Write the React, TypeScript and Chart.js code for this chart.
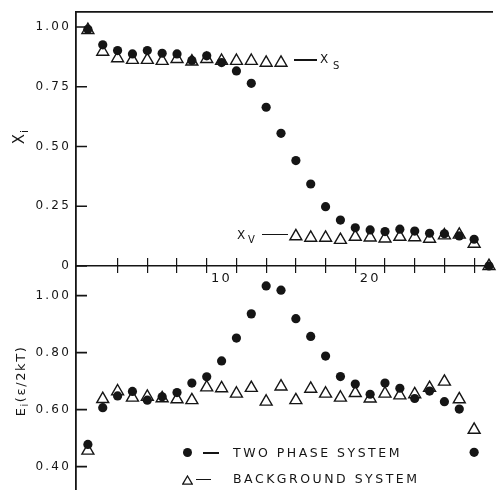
import React, { useEffect, useRef } from 'react';
import { Chart, registerables } from 'chart.js';

Chart.register(...registerables);

const INK = '#151515';
const FONT = '"DejaVu Sans", sans-serif';

// ---- data ----
const siteTop = [1, 2, 3, 4, 5, 6, 7, 8, 9, 10, 11, 12, 13, 14, 15, 16, 17, 18, 19, 20, 21, 22, 23, 24, 25, 26, 27, 28];
const siteBottom = [1, 2, 3, 4, 5, 6, 7, 8, 9, 10, 11, 12, 13, 14, 15, 16, 17, 18, 19, 20, 21, 22, 23, 24, 25, 26, 27];

const xTwoPhase = [0.99, 0.925, 0.901, 0.887, 0.901, 0.89, 0.887, 0.86, 0.879, 0.851, 0.816, 0.764, 0.664, 0.555, 0.441, 0.343, 0.248, 0.192, 0.16, 0.151, 0.144, 0.154, 0.146, 0.137, 0.135, 0.126, 0.112, 0];
const xBackground = [0.987, 0.896, 0.869, 0.862, 0.862, 0.858, 0.866, 0.855, 0.866, 0.858, 0.858, 0.858, 0.85, 0.85, 0.124, 0.118, 0.118, 0.109, 0.122, 0.119, 0.115, 0.122, 0.12, 0.114, 0.128, 0.131, 0.093, 0];

const eTwoPhase = [0.478, 0.607, 0.648, 0.664, 0.633, 0.645, 0.66, 0.693, 0.715, 0.771, 0.851, 0.936, 1.034, 1.019, 0.919, 0.857, 0.788, 0.716, 0.69, 0.654, 0.693, 0.675, 0.639, 0.665, 0.628, 0.602, 0.45];
const eBackground = [0.456, 0.637, 0.664, 0.642, 0.645, 0.64, 0.636, 0.633, 0.678, 0.675, 0.656, 0.676, 0.628, 0.681, 0.633, 0.673, 0.656, 0.642, 0.658, 0.639, 0.656, 0.65, 0.654, 0.676, 0.698, 0.636, 0.529];

const xMinorTicks = [3, 5, 7, 9, 11, 13, 15, 17, 19, 21, 23, 25, 27];
const xLabelTicks = [10, 20];
const topYTicks = [0, 0.25, 0.5, 0.75, 1.0];
const topYLabels = ['0', '0.25', '0.50', '0.75', '1.00'];
const botYTicks = [0.4, 0.6, 0.8, 1.0];
const botYLabels = ['0.40', '0.60', '0.80', '1.00'];

const X_MIN = 0.2;
const X_MAX = 28.25;
const TOP_Y_MAX = 1.0625;
const BOT_Y_MIN = 0.319;
const BOT_Y_MAX = 1.104;

const pts = (xs: number[], ys: number[]) => xs.map((x, i) => ({ x, y: ys[i] }));

const spacingPlugin = {
  id: 'letterSpacing',
  beforeDraw(chart: any) { chart.ctx.letterSpacing = '2.2px'; },
  afterDraw(chart: any) { chart.ctx.letterSpacing = '0px'; },
};

// y-axis tick marks pointing inward, placed at the y scale's own ticks
const innerTicksPlugin = {
  id: 'innerTicks',
  afterDraw(chart: any) {
    const s = chart.scales.y;
    const ctx = chart.ctx;
    const left = chart.chartArea.left;
    ctx.save();
    ctx.strokeStyle = INK;
    ctx.lineWidth = 1.6;
    ctx.beginPath();
    for (const t of s.ticks) {
      const py = s.getPixelForValue(t.value);
      ctx.moveTo(left, py);
      ctx.lineTo(left + 11, py);
    }
    ctx.stroke();
    ctx.restore();
  },
};

const dotStyle = {
  pointStyle: 'circle',
  pointRadius: 4.6,
  pointBackgroundColor: INK,
  pointBorderColor: INK,
  pointBorderWidth: 0,
  showLine: false,
  clip: false,
};
const triStyle = {
  pointStyle: 'triangle',
  pointRadius: 6.9,
  pointBackgroundColor: '#ffffff',
  pointBorderColor: INK,
  pointBorderWidth: 1.4,
  showLine: false,
  clip: false,
};

function setTicks(values: number[]) {
  return (s: any) => { s.ticks = values.map((v) => ({ value: v })); };
}

function yAxis(min: number, max: number, ticks: number[], labels: string[]) {
  return {
    type: 'linear',
    position: 'left',
    min, max,
    afterBuildTicks: setTicks(ticks),
    afterFit: (s: any) => { s.width = 76; s.paddingTop = 0; s.paddingBottom = 0; },
    grid: { display: false, drawTicks: false },
    border: { display: true, color: INK, width: 1.8 },
    ticks: {
      color: INK,
      padding: 5,
      font: { family: FONT, size: 12 },
      callback: (_v: any, i: number) => labels[i],
    },
  };
}

function topConfig(): any {
  return {
    type: 'scatter',
    data: {
      datasets: [
        { label: 'Two phase system', data: pts(siteTop, xTwoPhase), ...dotStyle },
        { label: 'Background system', data: pts(siteTop, xBackground), ...triStyle },
      ],
    },
    plugins: [spacingPlugin, innerTicksPlugin],
    options: {
      responsive: false,
      animation: false,
      devicePixelRatio: 1,
      layout: { padding: { top: 12, left: 0, right: 0, bottom: 0 } },
      plugins: { legend: { display: false }, tooltip: { enabled: false } },
      scales: {
        x: {
          type: 'linear',
          position: 'bottom',
          min: X_MIN, max: X_MAX,
          afterBuildTicks: setTicks(xLabelTicks),
          afterFit: (s: any) => { s.height = 34; s.paddingLeft = 0; s.paddingRight = 0; },
          grid: { display: false, drawTicks: false },
          border: { display: true, color: INK, width: 1.6 },
          ticks: {
            color: INK, padding: 5, maxRotation: 0, autoSkip: false,
            font: { family: FONT, size: 13 },
            callback: (v: any) => String(v),
          },
        },
        xt: {
          axis: 'x',
          type: 'linear',
          position: { y: 8 * TOP_Y_MAX / 254 },
          min: X_MIN, max: X_MAX,
          afterBuildTicks: setTicks(xMinorTicks),
          grid: { drawOnChartArea: false, drawTicks: true, tickLength: 15, color: INK, lineWidth: 1.2 },
          border: { display: false },
          ticks: { display: false },
        },
        xtop: {
          axis: 'x',
          type: 'linear',
          position: 'top',
          min: X_MIN, max: X_MAX,
          afterFit: (s: any) => { s.height = 0; s.paddingLeft = 0; s.paddingRight = 0; },
          grid: { display: false, drawTicks: false },
          border: { display: true, color: INK, width: 1.8 },
          ticks: { display: false },
        },
        y: yAxis(0, TOP_Y_MAX, topYTicks, topYLabels),
      },
    },
  };
}

function bottomConfig(): any {
  return {
    type: 'scatter',
    data: {
      datasets: [
        { label: 'Two phase system', data: pts(siteBottom, eTwoPhase), ...dotStyle },
        { label: 'Background system', data: pts(siteBottom, eBackground), ...triStyle },
      ],
    },
    plugins: [spacingPlugin, innerTicksPlugin],
    options: {
      responsive: false,
      animation: false,
      devicePixelRatio: 1,
      layout: { padding: { top: 16, left: 0, right: 0, bottom: 0 } },
      plugins: { legend: { display: false }, tooltip: { enabled: false } },
      scales: {
        x: { type: 'linear', min: X_MIN, max: X_MAX, display: false },
        y: yAxis(BOT_Y_MIN, BOT_Y_MAX, botYTicks, botYLabels),
      },
    },
  };
}

const abs = (left: number, top: number, extra: React.CSSProperties = {}): React.CSSProperties => ({
  position: 'absolute', left, top, ...extra,
});

const textStyle: React.CSSProperties = {
  fontFamily: FONT, color: INK, whiteSpace: 'nowrap', lineHeight: 1,
};

export default function App() {
  const topRef = useRef<HTMLCanvasElement>(null);
  const botRef = useRef<HTMLCanvasElement>(null);

  useEffect(() => {
    const top = new Chart(topRef.current as HTMLCanvasElement, topConfig());
    const bot = new Chart(botRef.current as HTMLCanvasElement, bottomConfig());
    return () => { top.destroy(); bot.destroy(); };
  }, []);

  return (
    <div style={{ position: 'absolute', left: 0, top: 0, width: 501, height: 498, overflow: 'hidden', background: '#fff' }}>
      <canvas ref={botRef} width={501} height={248} style={{ position: 'absolute', left: 0, top: 250 }} />
      <canvas ref={topRef} width={501} height={300} style={{ position: 'absolute', left: 0, top: 0 }} />

      {/* y-axis titles */}
      <div style={abs(19, 137, { ...textStyle, transform: 'translate(-50%, -50%) rotate(-90deg)', fontSize: 15 })}>
        X<span style={{ fontSize: 11, position: 'relative', top: 4, marginLeft: 1 }}>i</span>
      </div>
      <div style={abs(20, 381, { ...textStyle, transform: 'translate(-50%, -50%) rotate(-90deg)', fontSize: 13, letterSpacing: '1.6px' })}>
        E<span style={{ fontSize: 10, position: 'relative', top: 3 }}>i</span>(ε/2kT)
      </div>

      {/* x_s annotation */}
      <div style={abs(294, 59, { width: 23, height: 1.5, background: INK })} />
      <div style={abs(320, 53, { ...textStyle, fontSize: 12 })}>X</div>
      <div style={abs(333, 61, { ...textStyle, fontSize: 10 })}>S</div>

      {/* x_v annotation */}
      <div style={abs(237, 229, { ...textStyle, fontSize: 12 })}>X</div>
      <div style={abs(248, 235, { ...textStyle, fontSize: 10 })}>V</div>
      <div style={abs(262, 233.5, { width: 26, height: 1.5, background: INK })} />

      {/* legend */}
      <div style={abs(182.5, 448, { width: 9, height: 9, borderRadius: '50%', background: INK })} />
      <div style={abs(203, 452, { width: 16, height: 1.5, background: INK })} />
      <div style={abs(233, 446.5, { ...textStyle, fontSize: 12.5, letterSpacing: '2.5px' })}>TWO PHASE SYSTEM</div>

      <svg style={abs(182, 474.5)} width={11} height={10}>
        <polygon points="5.5,1 10.3,9.2 0.7,9.2" fill="none" stroke={INK} strokeWidth={1.3} />
      </svg>
      <div style={abs(196, 478.5, { width: 15, height: 1.5, background: INK })} />
      <div style={abs(233, 473, { ...textStyle, fontSize: 12.5, letterSpacing: '2.5px' })}>BACKGROUND SYSTEM</div>
    </div>
  );
}
